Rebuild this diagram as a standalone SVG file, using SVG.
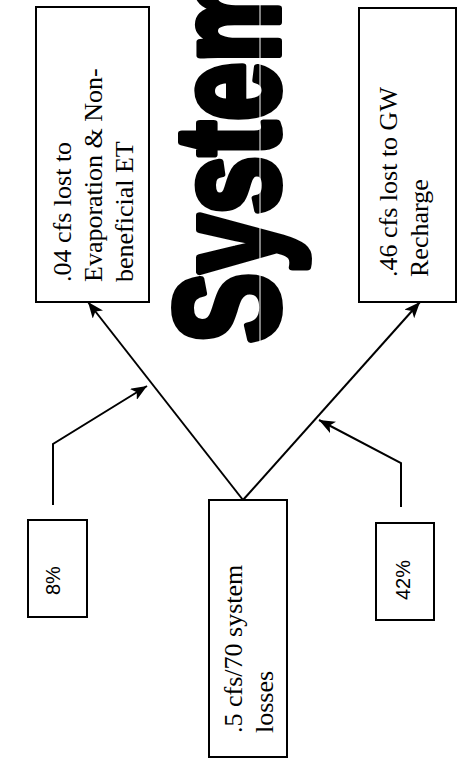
<svg xmlns="http://www.w3.org/2000/svg" width="459" height="759" viewBox="0 0 459 759">
<style>
.box{fill:#fff;stroke:#000;stroke-width:2}
.t{font-family:"Liberation Serif","Times New Roman",serif;font-size:26px;fill:#000}
.p{font-family:"Liberation Sans",Arial,sans-serif;font-size:20px;fill:#000}
.c{fill:none;stroke:#000;stroke-width:2}
.big{font-family:"Liberation Sans",Arial,sans-serif;font-weight:bold;font-size:146px;fill:#000;stroke:#000;stroke-width:8;stroke-linejoin:round}
</style>
<defs>
<marker id="ah" markerUnits="userSpaceOnUse" markerWidth="17" markerHeight="13" refX="16" refY="6.5" orient="auto">
<path d="M0,0 L16,6.5 L0,13 L4,6.5 z" fill="#000"/>
</marker>
</defs>
<rect width="459" height="759" fill="#fff"/>
<g id="title">
<text class="big" transform="translate(278,343) rotate(-90) scale(0.72,1)">System</text>
<line x1="260" y1="0" x2="260" y2="350" stroke="#fff" stroke-width="1"/>
</g>
<g id="connectors">
<path class="c" d="M243,500 L88,302" marker-end="url(#ah)"/>
<path class="c" d="M243,500 L420,302" marker-end="url(#ah)"/>
<path class="c" d="M53,505 L53,444 L147,386" marker-end="url(#ah)"/>
<path class="c" d="M401,507 L401,463 L319,420" marker-end="url(#ah)"/>
</g>
<g id="evap">
<rect class="box" x="36" y="7" width="113" height="295"/>
<text class="t" transform="translate(71,282) rotate(-90)">.04 cfs lost to</text>
<text class="t" transform="translate(102,282) rotate(-90)">Evaporation &amp; Non-</text>
<text class="t" transform="translate(133,282) rotate(-90)">beneficial ET</text>
</g>
<g id="gw">
<rect class="box" x="359" y="8" width="97" height="294"/>
<text class="t" transform="translate(397,277) rotate(-90)">.46 cfs lost to GW</text>
<text class="t" transform="translate(428,277) rotate(-90)">Recharge</text>
</g>
<g id="losses">
<rect class="box" x="209" y="500" width="78" height="257"/>
<text class="t" transform="translate(242,733) rotate(-90)">.5 cfs/70 system</text>
<text class="t" transform="translate(273,733) rotate(-90)">losses</text>
</g>
<g id="pct8">
<rect class="box" x="28" y="520" width="59" height="97"/>
<text class="p" transform="translate(60,595) rotate(-90)">8%</text>
</g>
<g id="pct42">
<rect class="box" x="376" y="523" width="58" height="97"/>
<text class="p" transform="translate(410,600) rotate(-90)">42%</text>
</g>
</svg>
